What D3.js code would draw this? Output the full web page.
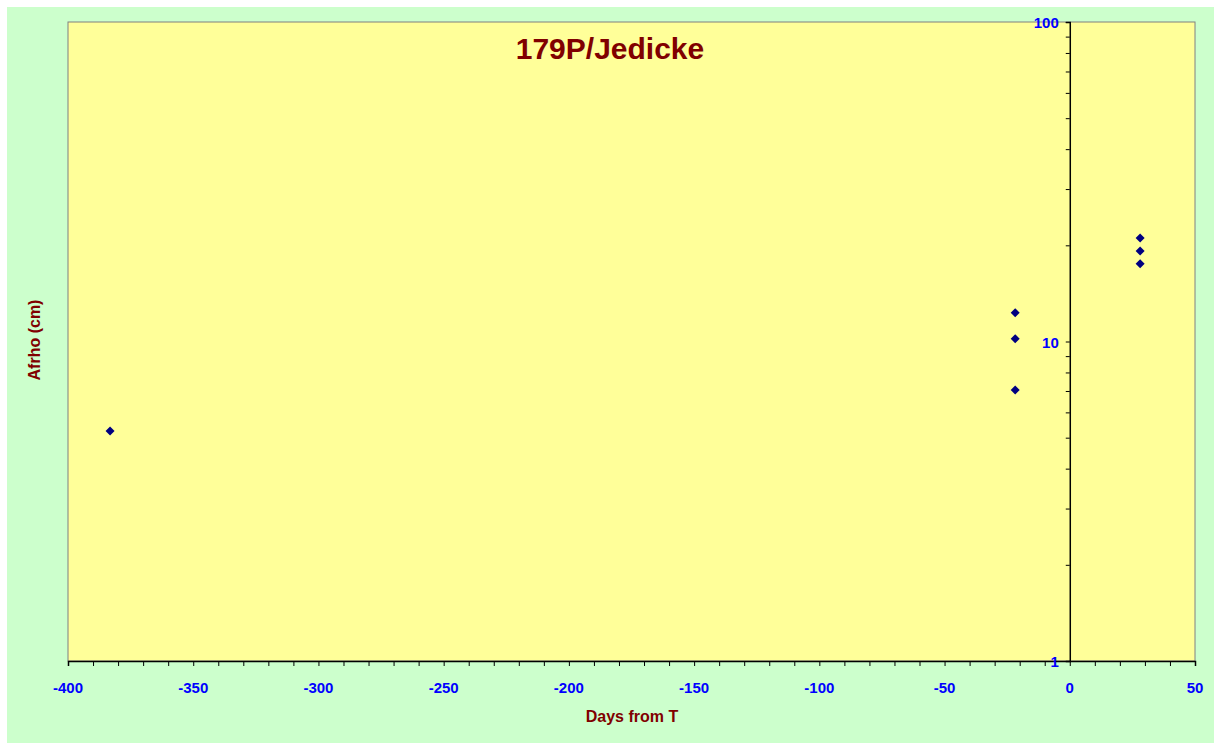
<!DOCTYPE html>
<html><head><meta charset="utf-8">
<script src="https://cdn.jsdelivr.net/npm/d3@7"></script>
<style>body{margin:0;background:#fff;}svg{display:block;font-family:Arial,"Liberation Sans",sans-serif;}</style>
</head><body>
<svg id="c" width="1221" height="750"></svg>
<script>
const title = "179P/Jedicke";
const xLabel = "Days from T";
const yLabel = "Afrho (cm)";
const days = [-383.2, -21.8, -21.8, -21.8, 28.1, 28.1, 28.1];
const afrho = [5.25, 12.3, 10.2, 7.05, 21.1, 19.2, 17.5];
const xTicks = [-400, -350, -300, -250, -200, -150, -100, -50, 0, 50];
const yTicks = [1, 10, 100];

const svg = d3.select("#c");
svg.append("rect").attr("x",7).attr("y",7).attr("width",1207).attr("height",736).attr("fill","#ccffcc");
const L=68,R=1195,T=22,B=661;
const x = d3.scaleLinear().domain([-400,50]).range([L,R]);
const y = d3.scaleLog().domain([1,100]).range([B,T]);
svg.append("rect").attr("x",L).attr("y",T).attr("width",R-L).attr("height",B-T).attr("fill","#ffff99").attr("stroke","#808080").attr("stroke-width",1);

// x axis
const xMinor = d3.range(-400,51,10);
const xa = svg.append("g").attr("transform",`translate(0,${B})`);
xa.call(d3.axisBottom(x).tickValues(xMinor).tickSize(5).tickFormat(""));
xa.select(".domain").attr("stroke","#000").attr("stroke-width",1.5);
xa.selectAll(".tick line").attr("stroke","#000");
xa.selectAll(".tick text").remove();
svg.append("g").selectAll("text").data(xTicks).join("text")
  .attr("x",d=>x(d)).attr("y",693).attr("text-anchor","middle")
  .attr("fill","#0000ff").attr("font-weight","bold").attr("font-size",15).text(d=>d);

// y axis at x=0
const yMinor = [];
[1,10].forEach(b=>{for(let i=1;i<10;i++) yMinor.push(b*i);}); yMinor.push(100);
const ya = svg.append("g").attr("transform",`translate(${x(0)},0)`);
ya.call(d3.axisLeft(y).tickValues(yMinor).tickSize(4).tickFormat(""));
ya.select(".domain").attr("stroke","#000").attr("stroke-width",1.5);
ya.selectAll(".tick line").attr("stroke","#000");
svg.append("g").selectAll("text").data(yTicks).join("text")
  .attr("x",x(0)-11).attr("y",d=>y(d)+6).attr("text-anchor","end")
  .attr("fill","#0000ff").attr("font-weight","bold").attr("font-size",15).text(d=>d);

// points
const pts = days.map((d,i)=>({d, a: afrho[i]}));
svg.append("g").selectAll("path").data(pts).join("path")
  .attr("transform",p=>`translate(${x(p.d)},${y(p.a)})`)
  .attr("d","M0,-4.5L4.5,0L0,4.5L-4.5,0Z")
  .attr("fill","#000080");

svg.append("text").attr("x",610).attr("y",59).attr("text-anchor","middle")
  .attr("fill","#800000").attr("font-weight","bold").attr("font-size",30).text(title);
svg.append("text").attr("x",632).attr("y",722).attr("text-anchor","middle")
  .attr("fill","#800000").attr("font-weight","bold").attr("font-size",16).text(xLabel);
svg.append("text").attr("transform","translate(40,340) rotate(-90)").attr("text-anchor","middle")
  .attr("fill","#800000").attr("font-weight","bold").attr("font-size",16).text(yLabel);
</script>
</body></html>
